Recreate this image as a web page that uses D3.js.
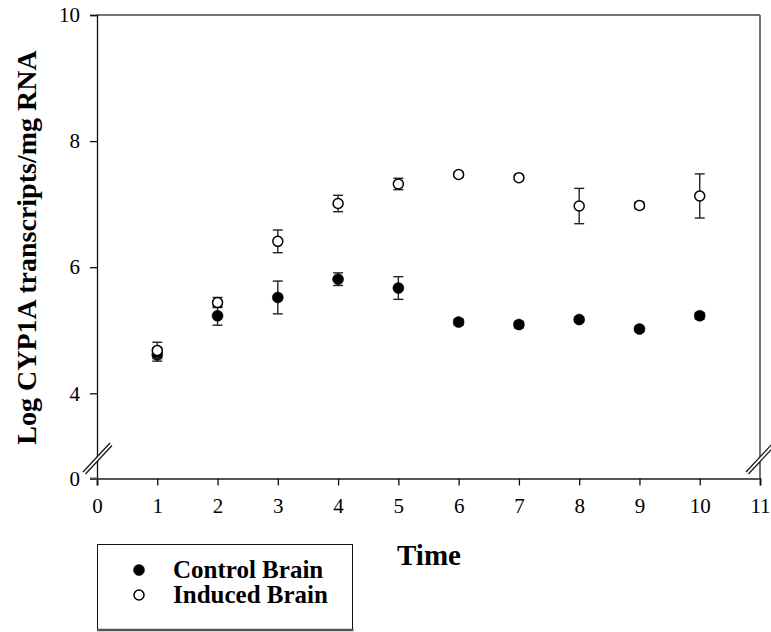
<!DOCTYPE html>
<html>
<head>
<meta charset="utf-8">
<script src="https://cdn.jsdelivr.net/npm/d3@7"></script>
<style>
  html, body { margin: 0; padding: 0; background: #fff; }
  svg { display: block; }
  svg text { font-family: "Liberation Serif", "Times New Roman", serif !important; }
</style>
</head>
<body>
<svg id="chart" width="771" height="632"></svg>
<script>
// ---- data ----
const times = [1, 2, 3, 4, 5, 6, 7, 8, 9, 10];
const controlMean = [4.61, 5.23, 5.52, 5.81, 5.67, 5.13, 5.09, 5.17, 5.02, 5.23];
const controlErr  = [0.10, 0.15, 0.26, 0.10, 0.18, 0.05, 0.05, 0.04, 0.04, 0.05];
const inducedMean = [4.68, 5.44, 6.41, 7.01, 7.32, 7.47, 7.42, 6.97, 6.98, 7.13];
const inducedErr  = [0.13, 0.08, 0.18, 0.13, 0.09, 0.04, 0.03, 0.28, 0.05, 0.35];
const xTicks = [0, 1, 2, 3, 4, 5, 6, 7, 8, 9, 10, 11];
const yTicks = [0, 4, 6, 8, 10];
const seriesNames = ["Control Brain", "Induced Brain"];
const yTitle = "Log CYP1A transcripts/mg RNA";
const xTitle = "Time";

// ---- layout ----
const svg = d3.select("#chart");
const pL = 97, pR = 760, pT = 15, pB = 478.5;
const serif = '"Liberation Serif", "Times New Roman", serif';

const x = d3.scaleLinear().domain([0, 11]).range([pL, pR]);
// broken axis: 0 sits just below the break, 4..10 linear
const y = d3.scaleLinear().domain([0, 4, 10]).range([pB, 393.3, pT]);

// frame: top and right
svg.append("line").attr("x1", pL).attr("x2", pR).attr("y1", pT).attr("y2", pT)
  .attr("stroke", "#444").attr("stroke-width", 1.5);
svg.append("line").attr("x1", pR).attr("x2", pR).attr("y1", pT).attr("y2", pB)
  .attr("stroke", "#444").attr("stroke-width", 1.5);

// y axis
const yAxis = svg.append("g").attr("transform", `translate(${pL},0)`)
  .call(d3.axisLeft(y).tickValues(yTicks).tickSize(7).tickPadding(10).tickFormat(d3.format("d")));
yAxis.attr("font-family", null);
yAxis.select(".domain").attr("stroke", "#111").attr("stroke-width", 1.3);
yAxis.selectAll(".tick line").attr("stroke", "#111").attr("stroke-width", 1.3);
yAxis.selectAll(".tick text").attr("font-size", 21).attr("fill", "#000")
  .style("font-family", serif);

// x axis
const xAxis = svg.append("g").attr("transform", `translate(0,${pB})`)
  .call(d3.axisBottom(x).tickValues(xTicks).tickSize(7).tickPadding(13).tickFormat(d3.format("d")));
xAxis.attr("font-family", null);
xAxis.select(".domain").attr("stroke", "#555").attr("stroke-width", 2);
xAxis.selectAll(".tick line").attr("stroke", "#111").attr("stroke-width", 1.3);
xAxis.selectAll(".tick text").attr("font-size", 21).attr("fill", "#000")
  .style("font-family", serif);
svg.append("line").attr("x1", pL - 7).attr("x2", pL).attr("y1", pB).attr("y2", pB)
  .attr("stroke", "#555").attr("stroke-width", 2);

// axis break marks
function brk(cx) {
  const cy = 458.5;
  const g = svg.append("g");
  g.append("polygon")
    .attr("points", `${cx-14},${cy+14} ${cx+13},${cy-15} ${cx+15},${cy-13} ${cx-12},${cy+16}`)
    .attr("fill", "#fff");
  g.append("line").attr("x1", cx - 14).attr("y1", cy + 13.5).attr("x2", cx + 13).attr("y2", cy - 15.5)
    .attr("stroke", "#111").attr("stroke-width", 1.2);
  g.append("line").attr("x1", cx - 11.5).attr("y1", cy + 15.5).attr("x2", cx + 15).attr("y2", cy - 13)
    .attr("stroke", "#111").attr("stroke-width", 1.2);
}
brk(pL);
brk(pR);

// error bars + points
function drawSeries(means, errs, filled) {
  const g = svg.append("g");
  const data = times.map((t, i) => ({ t, m: means[i], e: errs[i] }));
  const eb = g.selectAll("g.eb").data(data).join("g").attr("class", "eb")
    .attr("stroke", "#222").attr("stroke-width", 1.4);
  eb.append("line").attr("x1", d => x(d.t)).attr("x2", d => x(d.t))
    .attr("y1", d => y(d.m - d.e)).attr("y2", d => y(d.m + d.e));
  eb.append("line").attr("x1", d => x(d.t) - 5).attr("x2", d => x(d.t) + 5)
    .attr("y1", d => y(d.m - d.e)).attr("y2", d => y(d.m - d.e));
  eb.append("line").attr("x1", d => x(d.t) - 5).attr("x2", d => x(d.t) + 5)
    .attr("y1", d => y(d.m + d.e)).attr("y2", d => y(d.m + d.e));
  g.selectAll("circle").data(data).join("circle")
    .attr("cx", d => x(d.t)).attr("cy", d => y(d.m))
    .attr("r", filled ? 5.5 : 5)
    .attr("fill", filled ? "#000" : "#fff")
    .attr("stroke", "#000").attr("stroke-width", filled ? 0.5 : 1.5);
}
drawSeries(controlMean, controlErr, true);
drawSeries(inducedMean, inducedErr, false);

// axis titles
svg.append("text")
  .attr("transform", `translate(36,247.5) rotate(-90)`)
  .attr("text-anchor", "middle")
  .attr("font-size", 28).attr("font-weight", "bold")
  .text(yTitle);
svg.append("text")
  .attr("x", 429).attr("y", 565)
  .attr("text-anchor", "middle")
  .attr("font-size", 29).attr("font-weight", "bold")
  .text(xTitle);

// legend
const lg = svg.append("g");
lg.append("rect").attr("x", 97.5).attr("y", 544.5).attr("width", 255).attr("height", 85)
  .attr("fill", "#fff").attr("stroke", "#111").attr("stroke-width", 1);
lg.append("line").attr("x1", 97).attr("x2", 353.5).attr("y1", 630).attr("y2", 630)
  .attr("stroke", "#555").attr("stroke-width", 2.5);
const legY = [570, 595];
seriesNames.forEach((name, i) => {
  lg.append("circle").attr("cx", 139).attr("cy", legY[i]).attr("r", i === 0 ? 5.5 : 5)
    .attr("fill", i === 0 ? "#000" : "#fff").attr("stroke", "#000")
    .attr("stroke-width", i === 0 ? 0.5 : 1.5);
  lg.append("text").attr("x", 173).attr("y", legY[i] + 7.5)
    .attr("font-size", 25).attr("font-weight", "bold").text(name);
});
</script>
</body>
</html>
